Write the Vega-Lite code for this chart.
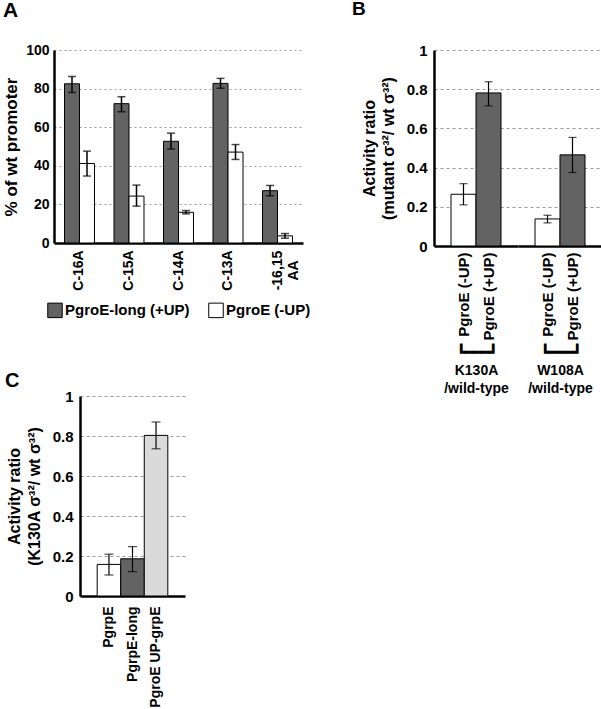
{
  "$schema": "https://vega.github.io/schema/vega-lite/v6.json",
  "padding": {"left": 2, "top": 0, "right": 0, "bottom": 0},
  "background": "white",
  "config": {
    "font": "Liberation Sans",
    "view": {"stroke": null},
    "axis": {"labelFont": "Liberation Sans", "labelFontWeight": "bold", "labelColor": "black", "titleFont": "Liberation Sans", "titleFontWeight": "bold", "titleColor": "black", "domainColor": "black", "domainWidth": 2.5, "tickColor": "black", "grid": false, "labelOverlap": false},
    "legend": {"layout": {"bottom": {"anchor": "middle"}}},
    "title": {"font": "Liberation Sans", "fontWeight": "bold", "color": "black", "anchor": "start"}
  },
  "datasets": {
    "A": [
      {"mut": "C-16A", "series": "PgroE-long (+UP)", "v": 82.5, "lo": 78, "hi": 86.3},
      {"mut": "C-16A", "series": "PgroE (-UP)", "v": 41.2, "lo": 34.7, "hi": 47.6},
      {"mut": "C-15A", "series": "PgroE-long (+UP)", "v": 72.2, "lo": 68, "hi": 75.8},
      {"mut": "C-15A", "series": "PgroE (-UP)", "v": 24.3, "lo": 19.1, "hi": 30},
      {"mut": "C-14A", "series": "PgroE-long (+UP)", "v": 52.7, "lo": 48.7, "hi": 56.9},
      {"mut": "C-14A", "series": "PgroE (-UP)", "v": 15.9, "lo": 15.1, "hi": 16.8},
      {"mut": "C-13A", "series": "PgroE-long (+UP)", "v": 82.7, "lo": 80.2, "hi": 85.3},
      {"mut": "C-13A", "series": "PgroE (-UP)", "v": 47.1, "lo": 43.3, "hi": 51},
      {"mut": "-16,15 AA", "series": "PgroE-long (+UP)", "v": 27.1, "lo": 24.5, "hi": 29.8},
      {"mut": "-16,15 AA", "series": "PgroE (-UP)", "v": 3.7, "lo": 2.5, "hi": 4.9}
    ],
    "BK": [
      {"series": "PgroE (-UP)", "v": 0.264, "lo": 0.21, "hi": 0.318},
      {"series": "PgroE (+UP)", "v": 0.781, "lo": 0.715, "hi": 0.838}
    ],
    "BW": [
      {"series": "PgroE (-UP)", "v": 0.138, "lo": 0.118, "hi": 0.157},
      {"series": "PgroE (+UP)", "v": 0.465, "lo": 0.375, "hi": 0.554}
    ],
    "C": [
      {"prom": "PgrpE", "v": 0.158, "lo": 0.105, "hi": 0.209},
      {"prom": "PgrpE-long", "v": 0.186, "lo": 0.122, "hi": 0.247},
      {"prom": "PgroE UP-grpE", "v": 0.803, "lo": 0.736, "hi": 0.87}
    ]
  },
  "concat": [
    {
      "vconcat": [
        {
          "title": {"text": "A", "fontSize": 21, "frame": "group", "offset": 22, "dx": -51},
          "width": 249,
          "height": 193,
          "data": {"name": "A"},
          "encoding": {
            "x": {"field": "mut", "type": "nominal", "sort": null,
              "scale": {"paddingInner": 0.394, "paddingOuter": 0.212},
              "axis": {"title": null, "ticks": false, "labelAngle": -90, "labelAlign": "center", "labelBaseline": "middle", "labelPadding": 27, "labelFontSize": 14,
                "labelExpr": "datum.label == '-16,15 AA' ? ['-16,15', 'AA'] : datum.label"}},
            "xOffset": {"field": "series", "type": "nominal", "sort": ["PgroE-long (+UP)", "PgroE (-UP)"], "scale": {"paddingInner": 0, "paddingOuter": 0}}
          },
          "layer": [
            {
              "mark": {"type": "bar", "stroke": "black", "strokeWidth": 1},
              "encoding": {
                "y": {"field": "v", "type": "quantitative", "scale": {"domain": [0, 100], "nice": false},
                  "axis": {"values": [0, 20, 40, 60, 80, 100], "tickCount": 10, "grid": true, "gridDash": [2, 3], "gridColor": "#9a9a9a", "gridWidth": 1, "ticks": false, "labelFontSize": 14, "labelPadding": 5, "title": "% of wt promoter", "titleFontSize": 17, "titlePadding": 5}},
                "fill": {"field": "series", "type": "nominal", "sort": ["PgroE-long (+UP)", "PgroE (-UP)"],
                  "scale": {"domain": ["PgroE-long (+UP)", "PgroE (-UP)"], "range": ["#636363", "#ffffff"]},
                  "legend": {"orient": "bottom", "direction": "horizontal", "title": null, "symbolType": "square", "symbolSize": 210, "symbolStrokeColor": "black", "symbolStrokeWidth": 1, "labelFontSize": 15, "labelFontWeight": "bold", "labelColor": "black", "columnPadding": 16, "labelOffset": 2, "offset": 11}}
              }
            },
            {"mark": {"type": "rule", "color": "black", "strokeWidth": 1.5}, "encoding": {"y": {"field": "lo", "type": "quantitative"}, "y2": {"field": "hi"}}},
            {"mark": {"type": "tick", "color": "black", "size": 8, "thickness": 1.5}, "encoding": {"y": {"field": "lo", "type": "quantitative"}}},
            {"mark": {"type": "tick", "color": "black", "size": 8, "thickness": 1.5}, "encoding": {"y": {"field": "hi", "type": "quantitative"}}}
          ]
        },
        {
          "hconcat": [
            {"width": 1, "height": 1, "data": {"values": []}, "mark": "point", "encoding": {}},
            {
              "title": {"text": "C", "fontSize": 20, "frame": "group", "offset": -2, "dx": -75},
              "width": 105,
              "height": 200,
              "data": {"name": "C"},
              "encoding": {
                "x": {"field": "prom", "type": "nominal", "sort": null,
                  "scale": {"paddingInner": 0, "paddingOuter": 0.73},
                  "axis": {"title": null, "ticks": false, "labelAngle": -90, "labelFontSize": 14, "labelPadding": 10}}
              },
              "layer": [
                {
                  "mark": {"type": "bar", "stroke": "black", "strokeWidth": 1},
                  "encoding": {
                    "y": {"field": "v", "type": "quantitative", "scale": {"domain": [0, 1], "nice": false},
                      "axis": {"values": [0, 0.2, 0.4, 0.6, 0.8, 1], "tickCount": 10, "format": ".1~f", "grid": true, "gridDash": [3, 3], "gridColor": "#9a9a9a", "ticks": false, "labelFontSize": 15, "labelPadding": 7, "title": ["Activity ratio", "(K130A σ³²/ wt σ³²)"], "titleFontSize": 16, "titlePadding": 10, "titleLineHeight": 20}},
                    "fill": {"field": "prom", "type": "nominal", "scale": {"domain": ["PgrpE", "PgrpE-long", "PgroE UP-grpE"], "range": ["#ffffff", "#636363", "#dadada"]}, "legend": null}
                  }
                },
                {"mark": {"type": "rule", "color": "black", "strokeWidth": 1.2}, "encoding": {"y": {"field": "lo", "type": "quantitative"}, "y2": {"field": "hi"}}},
                {"mark": {"type": "tick", "color": "black", "size": 9, "thickness": 1.2}, "encoding": {"y": {"field": "lo", "type": "quantitative"}}},
                {"mark": {"type": "tick", "color": "black", "size": 9, "thickness": 1.2}, "encoding": {"y": {"field": "hi", "type": "quantitative"}}}
              ]
            }
          ],
          "spacing": -50
        }
      ],
      "spacing": 51,
      "resolve": {"scale": {"fill": "independent"}, "legend": {"fill": "independent"}}
    },
    {
      "title": {"text": "B", "fontSize": 19, "frame": "group", "offset": 24, "dx": -82},
      "hconcat": [
        {
          "width": 84,
          "height": 196,
          "data": {"name": "BK"},
          "encoding": {
            "x": {"field": "series", "type": "nominal", "sort": ["PgroE (-UP)", "PgroE (+UP)"],
              "scale": {"paddingInner": 0, "paddingOuter": 0.68},
              "axis": {"ticks": false, "labelAngle": -90, "labelFontSize": 15, "labelPadding": 6,
                "title": ["┗━━━┛", "K130A", "/wild-type"], "titleFontSize": 14, "titleLineHeight": 18, "titlePadding": 6}}
          },
          "layer": [
            {
              "mark": {"type": "bar", "stroke": "black", "strokeWidth": 1},
              "encoding": {
                "y": {"field": "v", "type": "quantitative", "scale": {"domain": [0, 1], "nice": false},
                  "axis": {"values": [0, 0.2, 0.4, 0.6, 0.8, 1], "tickCount": 10, "format": ".1~f", "grid": true, "gridDash": [3, 3], "gridColor": "#9a9a9a", "ticks": false, "labelFontSize": 15, "labelPadding": 7, "title": ["Activity ratio", "(mutant σ³²/ wt σ³²)"], "titleFontSize": 16, "titlePadding": 10, "titleLineHeight": 19}},
                "fill": {"field": "series", "type": "nominal", "scale": {"domain": ["PgroE (-UP)", "PgroE (+UP)"], "range": ["#ffffff", "#636363"]}, "legend": null}
              }
            },
            {"mark": {"type": "rule", "color": "black", "strokeWidth": 1.2}, "encoding": {"y": {"field": "lo", "type": "quantitative"}, "y2": {"field": "hi"}}},
            {"mark": {"type": "tick", "color": "black", "size": 8, "thickness": 1.2}, "encoding": {"y": {"field": "lo", "type": "quantitative"}}},
            {"mark": {"type": "tick", "color": "black", "size": 8, "thickness": 1.2}, "encoding": {"y": {"field": "hi", "type": "quantitative"}}}
          ]
        },
        {
          "width": 84,
          "height": 196,
          "data": {"name": "BW"},
          "encoding": {
            "x": {"field": "series", "type": "nominal", "sort": ["PgroE (-UP)", "PgroE (+UP)"],
              "scale": {"paddingInner": 0, "paddingOuter": 0.68},
              "axis": {"ticks": false, "labelAngle": -90, "labelFontSize": 15, "labelPadding": 6,
                "title": ["┗━━━┛", "W108A", "/wild-type"], "titleFontSize": 14, "titleLineHeight": 18, "titlePadding": 6}}
          },
          "layer": [
            {
              "mark": {"type": "bar", "stroke": "black", "strokeWidth": 1},
              "encoding": {
                "y": {"field": "v", "type": "quantitative", "scale": {"domain": [0, 1], "nice": false},
                  "axis": {"values": [0, 0.2, 0.4, 0.6, 0.8, 1], "tickCount": 10, "grid": true, "gridDash": [3, 3], "gridColor": "#9a9a9a", "ticks": false, "labels": false, "domain": false, "title": null}},
                "fill": {"field": "series", "type": "nominal", "scale": {"domain": ["PgroE (-UP)", "PgroE (+UP)"], "range": ["#ffffff", "#636363"]}, "legend": null}
              }
            },
            {"mark": {"type": "rule", "color": "black", "strokeWidth": 1.2}, "encoding": {"y": {"field": "lo", "type": "quantitative"}, "y2": {"field": "hi"}}},
            {"mark": {"type": "tick", "color": "black", "size": 8, "thickness": 1.2}, "encoding": {"y": {"field": "lo", "type": "quantitative"}}},
            {"mark": {"type": "tick", "color": "black", "size": 8, "thickness": 1.2}, "encoding": {"y": {"field": "hi", "type": "quantitative"}}}
          ]
        }
      ],
      "spacing": 0,
      "resolve": {"scale": {"fill": "independent"}}
    }
  ],
  "columns": 2,
  "spacing": 41,
  "align": "none",
  "resolve": {"scale": {"fill": "independent"}, "legend": {"fill": "independent"}}
}
